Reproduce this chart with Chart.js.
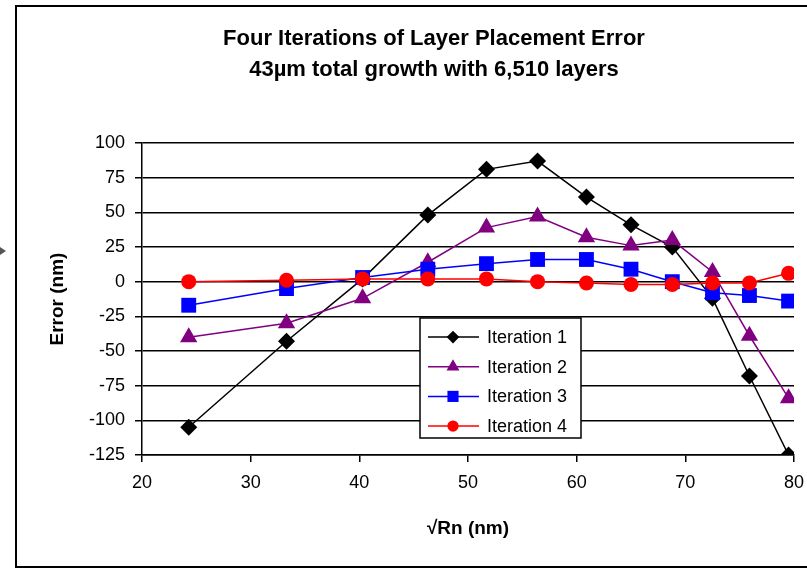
<!DOCTYPE html>
<html>
<head>
<meta charset="utf-8">
<script src="https://cdn.jsdelivr.net/npm/chart.js@4.4.1/dist/chart.umd.min.js"></script>
<style>
  html, body { margin: 0; padding: 0; background: #fff; overflow: hidden; }
  #wrap { position: relative; width: 807px; height: 571px; }
</style>
</head>
<body>
<div id="wrap"><canvas id="grafica" width="807" height="571"></canvas></div>
<script>
const TITULO = ["Four Iterations of Layer Placement Error", "43\u00b5m total growth with 6,510 layers"];
const ETIQUETAS = ["Iteration 1", "Iteration 2", "Iteration 3", "Iteration 4"];

// sqrt(Rn) en nm
const raizRn = [24.3, 33.3, 40.3, 46.3, 51.7, 56.4, 60.9, 65.0, 68.8, 72.5, 75.9, 79.5];

// error en nm por iteracion
const iter1 = [-105, -43, 2, 48, 81, 87, 61, 41, 25, -12, -68, -125];
const iter2 = [-40, -30, -12, 14, 39, 47, 32, 26, 30, 7, -39, -84];
const iter3 = [-17, -5, 3, 9, 13, 16, 16, 9, 0, -8, -10, -14];
const iter4 = [0, 1, 2, 2, 2, 0, -1, -2, -2, -1, -1, 6];

const ticksY = [100, 75, 50, 25, 0, -25, -50, -75, -100, -125];
const ticksX = [20, 30, 40, 50, 60, 70, 80];

const FUENTE = "'Liberation Sans', Arial, sans-serif";

const puntos = serie => raizRn.map((x, i) => ({ x: x, y: serie[i] }));

function dibujarMarcador(ctx, estilo, x, y, r, color) {
  ctx.save();
  ctx.fillStyle = color;
  ctx.beginPath();
  if (estilo === "rectRot") {
    ctx.moveTo(x - r, y); ctx.lineTo(x, y - r); ctx.lineTo(x + r, y); ctx.lineTo(x, y + r);
  } else if (estilo === "triangle") {
    ctx.moveTo(x, y - r);
    ctx.lineTo(x + r * 0.866, y + r * 0.5);
    ctx.lineTo(x - r * 0.866, y + r * 0.5);
  } else if (estilo === "rect") {
    const s = r * Math.SQRT1_2;
    ctx.rect(x - s, y - s, 2 * s, 2 * s);
  } else {
    ctx.arc(x, y, r, 0, Math.PI * 2);
  }
  ctx.closePath();
  ctx.fill();
  ctx.restore();
}

// Marco, flecha gris y titulo
const marco = {
  id: "marco",
  beforeDraw(chart) {
    const ctx = chart.ctx;
    ctx.save();
    ctx.fillStyle = "#fff";
    ctx.fillRect(0, 0, chart.width, chart.height);
    ctx.strokeStyle = "#000";
    ctx.lineWidth = 2;
    ctx.strokeRect(16, 6, 900, 561);
    ctx.fillStyle = "#555";
    ctx.beginPath();
    ctx.moveTo(0, 247); ctx.lineTo(6, 251); ctx.lineTo(0, 255);
    ctx.closePath();
    ctx.fill();
    ctx.fillStyle = "#000";
    ctx.font = "bold 22px " + FUENTE;
    ctx.textAlign = "center";
    ctx.textBaseline = "middle";
    ctx.fillText(TITULO[0], 434, 39);
    ctx.fillText(TITULO[1], 434, 70);
    ctx.restore();
  }
};

// Leyenda dentro del area del grafico
const leyenda = {
  id: "leyenda",
  afterDraw(chart) {
    const ctx = chart.ctx;
    const x0 = 420, y0 = 318, w = 161, h = 120;
    ctx.save();
    ctx.fillStyle = "#fff";
    ctx.fillRect(x0, y0, w, h);
    ctx.strokeStyle = "#000";
    ctx.lineWidth = 1.5;
    ctx.strokeRect(x0, y0, w, h);
    ctx.font = "18px " + FUENTE;
    ctx.textBaseline = "middle";
    ctx.textAlign = "left";
    chart.data.datasets.forEach((ds, i) => {
      const y = y0 + 19 + i * 29.7;
      ctx.strokeStyle = ds.borderColor;
      ctx.lineWidth = 1.5;
      ctx.beginPath();
      ctx.moveTo(x0 + 8, y); ctx.lineTo(x0 + 59, y);
      ctx.stroke();
      dibujarMarcador(ctx, ds.pointStyle, x0 + 33, y, ds.pointRadius * 0.75, ds.borderColor);
      ctx.fillStyle = "#000";
      ctx.fillText(ds.label, x0 + 67, y + 1);
    });
    ctx.restore();
  }
};

const serie = (label, data, color, estilo, radio, orden) => ({
  label: label,
  data: puntos(data),
  borderColor: color,
  backgroundColor: color,
  pointBackgroundColor: color,
  pointBorderColor: color,
  pointBorderWidth: 0,
  borderWidth: 1.5,
  pointStyle: estilo,
  pointRadius: radio,
  tension: 0,
  order: orden
});

new Chart(document.getElementById("grafica"), {
  type: "line",
  data: {
    datasets: [
      serie(ETIQUETAS[0], iter1, "#000000", "rectRot", 8.5, 4),
      serie(ETIQUETAS[1], iter2, "#800080", "triangle", 10, 3),
      serie(ETIQUETAS[2], iter3, "#0000ff", "rect", 10.5, 2),
      serie(ETIQUETAS[3], iter4, "#ff0000", "circle", 7.5, 1)
    ]
  },
  options: {
    responsive: false,
    animation: false,
    events: [],
    layout: { padding: { left: 42, right: 0, top: 143, bottom: 27 } },
    plugins: { legend: { display: false }, title: { display: false }, tooltip: { enabled: false } },
    scales: {
      x: {
        type: "linear",
        min: 20, max: 80,
        afterBuildTicks: s => { s.ticks = ticksX.map(v => ({ value: v })); },
        afterFit: s => { s.height = 89; s.paddingRight = 13; },
        grid: { drawOnChartArea: false, drawTicks: true, tickLength: 7, color: "#000", lineWidth: 1.5 },
        border: { display: true, color: "#000", width: 1.5 },
        ticks: { color: "#000", padding: 10, maxRotation: 0, font: { family: FUENTE, size: 18 } },
        title: { display: true, text: "\u221aRn (nm)", color: "#000", font: { family: FUENTE, size: 19, weight: "bold" } }
      },
      y: {
        min: -125, max: 100,
        afterBuildTicks: s => { s.ticks = ticksY.map(v => ({ value: v })); },
        afterFit: s => { s.width = 100; },
        grid: { drawOnChartArea: true, drawTicks: true, tickLength: 7, color: "#000", lineWidth: 1.5 },
        border: { display: true, color: "#000", width: 1.5 },
        ticks: { color: "#000", padding: 10, font: { family: FUENTE, size: 18 } },
        title: { display: true, text: "Error (nm)", color: "#000", font: { family: FUENTE, size: 19, weight: "bold" } }
      }
    }
  },
  plugins: [marco, leyenda]
});
</script>
</body>
</html>
